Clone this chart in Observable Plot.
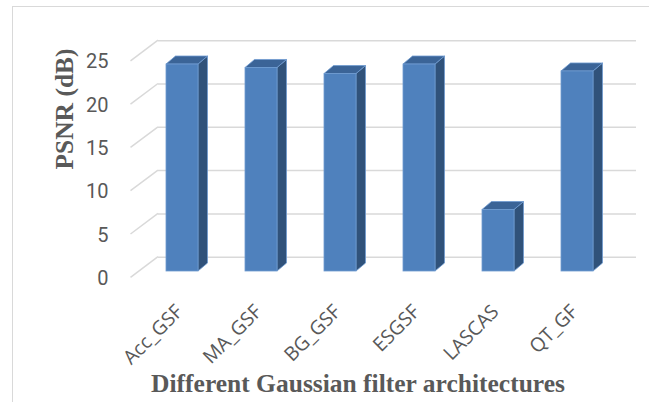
<!DOCTYPE html>
<html>
<head>
<meta charset="utf-8">
<script src="https://cdn.jsdelivr.net/npm/d3@7"></script>
<script src="https://cdn.jsdelivr.net/npm/@observablehq/plot@0.6"></script>
<style>
  html, body { margin: 0; padding: 0; background: #fff; }
  #wrap { position: relative; width: 649px; height: 402px; overflow: hidden; }
  #border { position: absolute; left: 12px; top: 6px; right: -10px; bottom: -10px;
            border-left: 1.5px solid #d9d9d9; border-top: 1.5px solid #d9d9d9; }
  #chart { position: absolute; left: 0; top: 0; }
</style>
</head>
<body>
<div id="wrap"><div id="border"></div><div id="chart"></div></div>
<script>
const categories = ["Acc_GSF", "MA_GSF", "BG_GSF", "ESGSF", "LASCAS", "QT_GF"];
const psnr = [23.9, 23.5, 22.8, 23.9, 7.1, 23.1];
const yTicks = [0, 5, 10, 15, 20, 25];
const xTitle = "Different Gaussian filter architectures";
const yTitle = "PSNR (dB)";

const data = categories.map((c, i) => ({name: c, value: psnr[i]}));

// depth offsets for the pseudo-3D look
const BACK = {dx: 18, dy: -14.3};
const FRONT = {dx: -9.5, dy: 6.3};
const DEPTH = {dx: 9.5, dy: -8};
const ns = "http://www.w3.org/2000/svg";

function floorDiagonals(index, scales, values, dims) {
  const g = document.createElementNS(ns, "g");
  const x0 = dims.marginLeft;
  for (const i of index) {
    const y = scales.y(yTicks[i]);
    const l = document.createElementNS(ns, "line");
    l.setAttribute("x1", x0 + FRONT.dx);
    l.setAttribute("y1", y + FRONT.dy);
    l.setAttribute("x2", x0 + BACK.dx);
    l.setAttribute("y2", y + BACK.dy);
    l.setAttribute("stroke", "#d9d9d9");
    l.setAttribute("stroke-width", 1.5);
    g.appendChild(l);
  }
  return g;
}

function poly(points, fill) {
  const p = document.createElementNS(ns, "polygon");
  p.setAttribute("points", points.map(q => q.join(",")).join(" "));
  p.setAttribute("fill", fill);
  return p;
}

function bars3D(index, scales, values, dims, context, next) {
  const g = next(index, scales, values, dims, context);
  const rects = Array.from(g.querySelectorAll("rect"));
  const faces = document.createElementNS(ns, "g");
  for (const r of rects) {
    const xl = +r.getAttribute("x");
    const w = +r.getAttribute("width");
    const yt = +r.getAttribute("y");
    const h = +r.getAttribute("height");
    const xr = xl + w, y0 = yt + h;
    faces.appendChild(poly([[xr, yt], [xr + DEPTH.dx, yt + DEPTH.dy], [xr + DEPTH.dx, y0 + DEPTH.dy], [xr, y0]], "#30527a"));
    faces.appendChild(poly([[xl, yt], [xr, yt], [xr + DEPTH.dx, yt + DEPTH.dy], [xl + DEPTH.dx, yt + DEPTH.dy]], "#3b6497"));
  }
  g.insertBefore(faces, g.firstChild);
  return g;
}

const plot = Plot.plot({
  width: 649,
  height: 402,
  marginLeft: 140,
  marginRight: 31,
  marginTop: 54.5,
  marginBottom: 131,
  style: {background: "transparent", overflow: "visible"},
  x: {domain: categories, paddingInner: 0.6, paddingOuter: 0.3, axis: null},
  y: {domain: [0, 25], axis: null},
  marks: [
    Plot.ruleY(yTicks, {stroke: "#d9d9d9", strokeWidth: 1.5, dx: BACK.dx, dy: BACK.dy}),
    Plot.ruleY(yTicks, {y: d => d, render: floorDiagonals}),
    Plot.barY(data, {x: "name", y: "value", fill: "#4f81bd", stroke: "#6f9bd0", strokeWidth: 0.8, render: bars3D}),
    Plot.text(yTicks, {y: d => d, text: d => String(d), frameAnchor: "left", textAnchor: "end",
      lineAnchor: "middle", dx: -32, dy: 7, fontSize: 20, fill: "#595959", fontFamily: "Roboto"}),
    Plot.text(data, {x: "name", y: d => 0, text: "name", rotate: -45, textAnchor: "end",
      lineAnchor: "middle", dx: -3, dy: 37, fontSize: 19.5, fill: "#595959", fontFamily: "Open Sans"}),
    Plot.text([xTitle], {frameAnchor: "bottom", lineAnchor: "middle", dx: -21.5, dy: 112,
      fontSize: 25.5, fontWeight: "bold", fill: "#595959", fontFamily: "Liberation Serif"}),
    Plot.text([yTitle], {frameAnchor: "left", rotate: -90, lineAnchor: "middle", dx: -76, dy: 6.3,
      fontSize: 25.5, fontWeight: "bold", fill: "#595959", fontFamily: "Liberation Serif"})
  ]
});
document.getElementById("chart").appendChild(plot);
</script>
</body>
</html>
